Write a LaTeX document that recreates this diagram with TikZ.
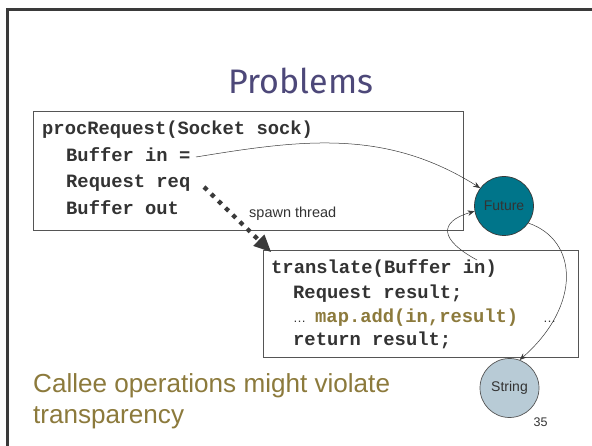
\documentclass[tikz,border=0pt]{standalone}
\usepackage{fontspec}
\setmainfont{Liberation Sans}
\newfontfamily\codefont{Liberation Mono}
\newfontfamily\titlefont{Fira Sans}
\usetikzlibrary{arrows.meta}

\definecolor{framegray}{HTML}{3A3A3A}
\definecolor{titleblue}{HTML}{4D4879}
\definecolor{olive}{HTML}{8C7A3C}
\definecolor{codegray}{HTML}{333333}
\definecolor{boxgray}{HTML}{555555}
\definecolor{futureteal}{HTML}{00758A}
\definecolor{stringblue}{HTML}{B8CBD6}

\tikzset{
  codebox/.style={draw=boxgray, line width=0.9pt},
  codeline/.style={anchor=base west, inner sep=0pt, text=codegray,
    font=\codefont\bfseries\fontsize{18.8}{18.8}\selectfont},
  objcircle/.style={circle, draw=framegray, line width=0.7pt, minimum size=59pt,
    inner sep=0pt, text=codegray, font=\fontsize{14}{14}\selectfont},
  refline/.style={draw=framegray, line width=0.5pt,
    -{Stealth[length=7pt,width=5.5pt]}},
  spawnline/.style={draw=framegray, line width=4.3pt,
    dash pattern=on 4.3pt off 5.7pt,
    -{Triangle[length=17pt,width=16pt,line width=0pt]}},
  bullettext/.style={anchor=base west, inner sep=0pt, text=olive,
    font=\fontsize{26.1}{31}\selectfont}
}

\begin{document}
\begin{tikzpicture}[x=1pt,y=-1pt]
\useasboundingbox (0,0) rectangle (592,446);
\fill[white] (0,0) rectangle (592,446);

% slide frame
\draw[framegray, line width=2.5pt] (7.5,446) -- (7.5,9.7) -- (592,9.7);

% title
\node[anchor=base, inner sep=0pt, text=titleblue,
  font=\titlefont\fontsize{34}{34}\selectfont] (title) at (301,94) {Problems};

% caller box
\draw[codebox] (33,111) rectangle (463,230);
\node[codeline] (proc) at (42,135) {procRequest(Socket sock)};
\node[codeline] (bin)  at (66,162) {Buffer in =};
\node[codeline] (req)  at (66,188) {Request req};
\node[codeline] (bout) at (66,215) {Buffer out};

% callee box
\draw[codebox] (263,250) rectangle (578,357);
\node[codeline] (trans) at (271,274) {translate(Buffer in)};
\node[codeline] (res)   at (293,299) {Request result;};
\node[anchor=base west, inner sep=0pt, text=codegray, font=\fontsize{13}{13}\selectfont]
  (dots1) at (293,323) {…};
\node[codeline, text=olive] (mapadd) at (315,323) {map.add(in,result)};
\node[anchor=base west, inner sep=0pt, text=codegray, font=\fontsize{13}{13}\selectfont]
  (dots2) at (543,323) {…};
\node[codeline] (ret) at (293,346) {return result;};

% objects
\node[objcircle, fill=futureteal] (fut) at (504,206) {Future};
\node[objcircle, fill=stringblue, draw=boxgray] (str) at (509.5,388) {String};

% label of the spawn arrow
\node[anchor=base west, inner sep=0pt, text=codegray, font=\fontsize{14.5}{14.5}\selectfont]
  (spawn) at (249,218) {spawn thread};

% connectors
\coordinate (binend) at (196,157);
\coordinate (inref) at (477,260);
\coordinate (reqend) at (204,187);
\coordinate (transtop) at (271,252);

\draw[refline] (binend) .. controls (300,140) and (385,128) .. (fut.143);
\draw[refline] (inref) .. controls (440,240) and (438,222) .. (fut.190);
\draw[refline] (fut.-35) .. controls (578,240) and (582,305) .. (str.70);
\draw[spawnline] (reqend) -- (transtop);

% bullet text and page number
\node[bullettext] (callee1) at (33,392) {Callee operations might violate};
\node[bullettext] (callee2) at (33,423) {transparency};
\node[anchor=center, inner sep=0pt, text=codegray, font=\fontsize{12.5}{12.5}\selectfont]
  (pagenum) at (540.5,422) {35};
\end{tikzpicture}
\end{document}
